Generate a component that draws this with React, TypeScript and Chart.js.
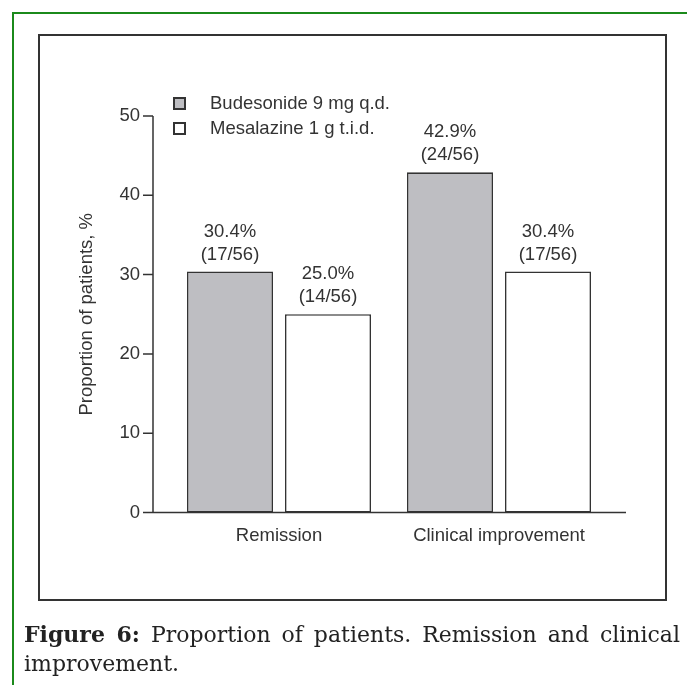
import React, { useEffect, useRef } from 'react';
import { Chart, registerables } from 'chart.js';

Chart.register(...registerables);

// ---- data ----
const categories = ['Remission', 'Clinical improvement'];
const seriesNames = ['Budesonide 9 mg q.d.', 'Mesalazine 1 g t.i.d.'];
const budesonideValues = [30.4, 42.9];
const mesalazineValues = [25.0, 30.4];
const budesonideCounts = [17, 24];
const mesalazineCounts = [14, 17];
const groupSize = 56;
const yTickStep = 10;
const yMin = 0;
const yMax = 50;
const yAxisTitle = 'Proportion of patients, %';
const captionBold = 'Figure 6:';
const captionText = ' Proportion of patients. Remission and clinical improvement.';

// ---- styles ----
const seriesFills = ['#bebec2', '#ffffff'];
const inkColor = '#333333';
const fontFamily = "'Liberation Sans', Arial, Helvetica, sans-serif";
const fontSize = 18.5;

const seriesValues = [budesonideValues, mesalazineValues];
const seriesCounts = [budesonideCounts, mesalazineCounts];

const axesPlugin = {
  id: 'customAxes',
  afterDraw(chart: any) {
    const { ctx, chartArea } = chart;
    const y = chart.scales.y;
    const axisX = chartArea.left - 16;
    const tickStart = axisX - 10;
    const yBottom = y.getPixelForValue(yMin);
    const yTop = y.getPixelForValue(yMax);
    ctx.save();
    ctx.strokeStyle = inkColor;
    ctx.lineWidth = 1.5;
    ctx.beginPath();
    ctx.moveTo(axisX, yTop);
    ctx.lineTo(axisX, yBottom);
    y.ticks.forEach((t: any) => {
      const py = y.getPixelForValue(t.value);
      ctx.moveTo(tickStart, py);
      ctx.lineTo(axisX, py);
    });
    ctx.moveTo(tickStart, yBottom);
    ctx.lineTo(chartArea.right + 17, yBottom);
    ctx.stroke();
    ctx.restore();
  },
};

const valueLabelPlugin = {
  id: 'valueLabels',
  afterDatasetsDraw(chart: any) {
    const { ctx } = chart;
    ctx.save();
    ctx.fillStyle = inkColor;
    ctx.font = `${fontSize}px ${fontFamily}`;
    ctx.textAlign = 'center';
    ctx.textBaseline = 'middle';
    chart.data.datasets.forEach((_ds: any, i: number) => {
      const meta = chart.getDatasetMeta(i);
      meta.data.forEach((bar: any, j: number) => {
        const v = seriesValues[i][j];
        const c = seriesCounts[i][j];
        ctx.fillText(`${v.toFixed(1)}%`, bar.x, bar.y - 40);
        ctx.fillText(`(${c}/${groupSize})`, bar.x, bar.y - 17);
      });
    });
    ctx.restore();
  },
};

export default function App() {
  const canvasRef = useRef<HTMLCanvasElement | null>(null);

  useEffect(() => {
    if (!canvasRef.current) return;
    const font = { family: fontFamily, size: fontSize };
    const chart = new Chart(canvasRef.current, {
      type: 'bar',
      data: {
        labels: categories,
        datasets: seriesNames.map((name, i) => ({
          label: name,
          data: seriesValues[i],
          backgroundColor: seriesFills[i],
          borderColor: inkColor,
          borderWidth: 1.6,
          borderSkipped: false,
          categoryPercentage: 0.891,
          barPercentage: 0.878,
        })),
      },
      options: {
        animation: false,
        responsive: false,
        maintainAspectRatio: false,
        events: [],
        layout: { padding: { left: 76, right: 78, top: 116, bottom: 112.5 } },
        plugins: {
          legend: { display: false },
          tooltip: { enabled: false },
          title: { display: false },
        },
        scales: {
          x: {
            grid: { display: false, drawTicks: false },
            border: { display: false },
            ticks: { font, color: inkColor, padding: 12 },
            afterFit: (s: any) => {
              s.height = 60;
            },
          },
          y: {
            min: yMin,
            max: yMax,
            grid: { display: false, drawTicks: false },
            border: { display: false },
            ticks: { stepSize: yTickStep, font, color: inkColor, padding: 29 },
            title: { display: true, text: yAxisTitle, font, color: inkColor, padding: 0 },
            afterFit: (s: any) => {
              s.width = 93;
            },
          },
        },
      },
      plugins: [axesPlugin, valueLabelPlugin],
    } as any);
    return () => chart.destroy();
  }, []);

  return (
    <div style={{ position: 'absolute', left: 0, top: 0, width: 687, height: 685, overflow: 'hidden', background: '#fff' }}>
      <div
        style={{
          position: 'absolute',
          left: 12,
          top: 12,
          width: 720,
          height: 720,
          borderLeft: '2px solid #1b8a1b',
          borderTop: '2px solid #1b8a1b',
        }}
      />
      <div
        style={{
          position: 'absolute',
          left: 38,
          top: 34,
          width: 629,
          height: 567,
          boxSizing: 'border-box',
          border: '2px solid #333',
        }}
      />
      <canvas ref={canvasRef} width={687} height={685} style={{ position: 'absolute', left: 0, top: 0, width: 687, height: 685 }} />
      {seriesNames.map((name, i) => (
        <div
          key={name}
          style={{ position: 'absolute', left: 173, top: 96 + i * 25, height: 14, display: 'flex', alignItems: 'center' }}
        >
          <span
            style={{
              display: 'inline-block',
              width: 13,
              height: 13,
              boxSizing: 'border-box',
              border: `2px solid ${inkColor}`,
              background: seriesFills[i],
            }}
          />
          <span
            style={{
              marginLeft: 24,
              fontFamily,
              fontSize,
              color: inkColor,
              lineHeight: '14px',
              whiteSpace: 'nowrap',
            }}
          >
            {name}
          </span>
        </div>
      ))}
      <div
        style={{
          position: 'absolute',
          left: 24,
          top: 620,
          width: 656,
          fontFamily: "'DejaVu Serif', serif",
          fontSize: 22,
          lineHeight: '29px',
          color: '#222',
          textAlign: 'justify',
        }}
      >
        <b>{captionBold}</b>
        {captionText}
      </div>
    </div>
  );
}
